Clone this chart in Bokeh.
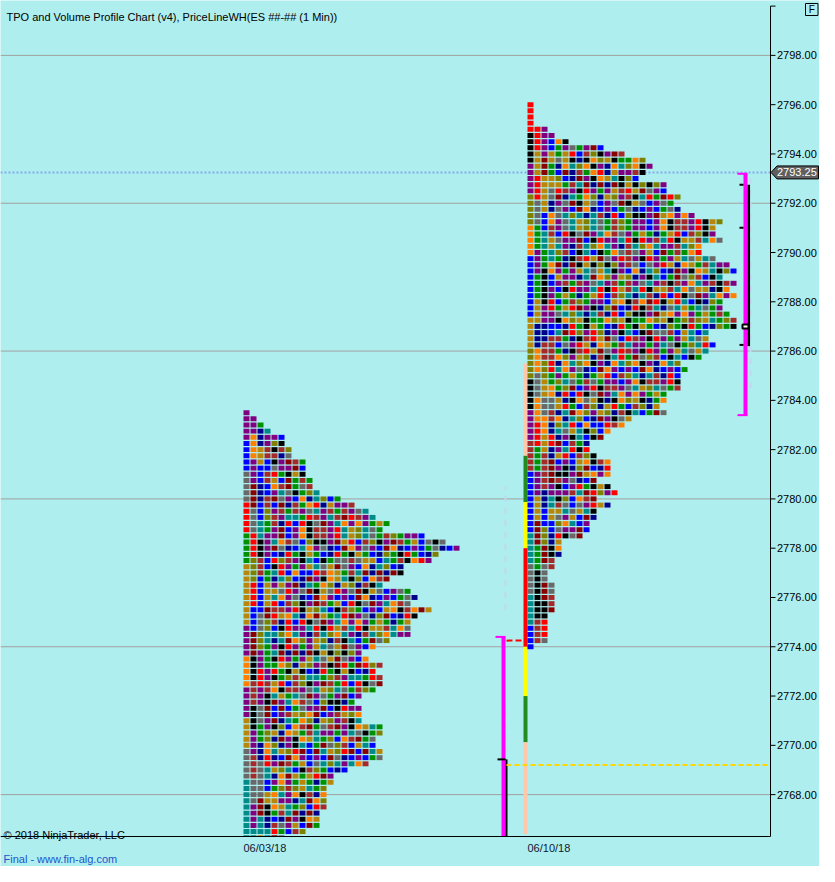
from bokeh.plotting import figure
from bokeh.models import ColumnDataSource, Range1d
from bokeh.core.properties import value
from bokeh.embed import file_html
from bokeh.resources import INLINE

# ---------------- data ----------------
TITLE = "TPO and Volume Profile Chart (v4), PriceLineWH(ES ##-## (1 Min))"
COPYRIGHT = "\u00a9 2018 NinjaTrader, LLC"
FOOTER = "Final - www.fin-alg.com"

session_dates = ["06/03/18", "06/10/18"]
tick_size = 0.25

# TPO counts per price row, from the top row downwards
p1_top = 2783.5
p1_counts = [1, 2, 3, 4, 6, 6, 7, 7, 9, 9, 9, 10, 10, 11, 14, 16, 18, 19, 21, 20,
             26, 29, 31, 28, 27, 23, 23, 21, 20, 24, 25, 24, 27, 25, 24, 24,
             24, 21, 19, 17, 18, 20, 19, 20, 20, 19, 17, 16, 17, 17, 17, 20, 20, 19,
             19, 20, 20, 18, 15, 13, 13, 12, 12, 12, 12, 11, 11, 11, 9, 6]
p2_top = 2796.0
p2_counts = [1, 1, 1, 1, 3, 4, 6, 11, 14, 17, 18, 17, 16, 20, 20, 22, 21, 22, 24, 28,
             27, 27, 28, 25, 25, 27, 29, 30, 28, 30, 29, 30, 28, 28, 29, 30, 30, 26, 26, 27,
             26, 25, 22, 23, 22, 22, 22, 20, 20, 19, 20, 15, 14, 12, 11, 9, 9, 10, 12, 12,
             12, 10, 12, 13, 10, 12, 10, 10, 9, 9, 8, 5, 5, 5, 4, 4, 3, 3, 4, 4,
             4, 4, 4, 3, 3, 3, 3, 3, 1]

last_price = 2793.25
price_ticks = [2768.0, 2770.0, 2772.0, 2774.0, 2776.0, 2778.0, 2780.0, 2782.0,
               2784.0, 2786.0, 2788.0, 2790.0, 2792.0, 2794.0, 2796.0, 2798.0, 2800.0]
labelled_ticks = price_ticks[:-1]
grid_prices = [2768.0, 2774.0, 2780.0, 2786.0, 2792.0, 2798.0]

# coloured strip at the left edge of session 2
strip_tops = [2785.5, 2781.75, 2779.875, 2778.0, 2774.0, 2772.0, 2770.125]
strip_bottoms = [2781.75, 2779.875, 2778.0, 2774.0, 2772.0, 2770.125, 2766.4]
strip_colors = ["#FFC8AA", "#228B22", "#FFFF00", "#FF0000", "#FFFF00", "#228B22", "#FFC8AA"]

# PriceLineWH levels
left_magenta_top = 2774.4
left_black_top = 2769.43
red_level = 2774.25
yellow_level = 2769.2
right_magenta_top = 2793.2
right_magenta_bottom = 2783.4
right_black_top = 2792.75
right_black_bottom = 2786.2
right_black_ticks = [2792.75, 2791.0, 2786.25]
right_marker = 2787.0

# ---------------- layout ----------------
W, H = 819, 866
Y0, Y1 = 2766.3, 2800.0         # price extent of the plotting area
TOP_PX, BOT_PX = 5.6, 836.0     # where Y1 / Y0 sit, px from the top
PPU = (BOT_PX - TOP_PX) / (Y1 - Y0)
Y_TOP = Y1 + TOP_PX / PPU
Y_BOT = Y0 - (H - BOT_PX) / PPU
AX = 770.0                      # price axis position (px from left)


def py(pix):                    # vertical pixel offset -> price units
    return pix / PPU


session_x = [243, 527]
pitch, cell_w, cell_h = 7.0, 6.0, 0.2

BG = "#AFEEEE"
FONT = "Liberation Sans"

palette = {"K": "#000000", "G": "#009100", "R": "#8B0000", "N": "#00008B",
           "T": "#008B8B", "P": "#800080", "D": "#B8860B", "O": "#808000",
           "Y": "#696969", "E": "#FF0000", "B": "#0000FF", "W": "#A52A2A",
           "A": "#FF8000"}
SEQ = "PKGWBNTPDOYEARGKTBWDNPOEYAGRTKBPDWNYOAEGTRKPBDW"


def cell_color(s, r, c):
    run = max(1, 5 - c)
    k = r // run
    i = (c * 7 + k * 3 + (c * k * k) % 13 + (k * k) % 7 + s * 11) % len(SEQ)
    return palette[SEQ[i]]


L, R, T, B, C = [], [], [], [], []
for s, (top, counts) in enumerate([(p1_top, p1_counts), (p2_top, p2_counts)]):
    for r, n in enumerate(counts):
        yc = top - tick_size * r
        if yc + cell_h / 2 <= Y0:
            continue
        for c in range(n):
            L.append(session_x[s] + pitch * c)
            R.append(session_x[s] + pitch * c + cell_w)
            T.append(yc + cell_h / 2)
            B.append(max(yc - cell_h / 2, Y0))
            C.append(cell_color(s, r, c))
cells = ColumnDataSource(dict(left=L, right=R, top=T, bottom=B, color=C))

p = figure(width=W, height=H, output_backend="svg", toolbar_location=None,
           x_range=Range1d(0, W), y_range=Range1d(Y_BOT, Y_TOP),
           x_axis_location=None, y_axis_location=None,
           min_border_left=0, min_border_right=0, min_border_top=0, min_border_bottom=0,
           background_fill_color=BG, border_fill_color=BG, outline_line_color=None)
p.grid.visible = False

# horizontal grid lines and last-price dotted line
p.segment(x0=0, x1=AX, y0=grid_prices, y1=grid_prices, line_color="#A0A0A0", line_width=1)
p.segment(x0=[0], x1=[AX], y0=[last_price], y1=[last_price], line_color="#82AAF0",
          line_width=2, line_dash="2 2")

# faint guide lines
p.segment(x0=[505, 505], x1=[505, 505], y0=[Y0, 2775.5], y1=[2771.5, 2780.5],
          line_color="#C4D6F2", line_width=2, line_dash="6 6")
p.segment(x0=[750], x1=[750], y0=[2784.5], y1=[2793.0],
          line_color="#C4D6F2", line_width=2, line_dash="6 6")

# strip
p.quad(left=523, right=527, top=strip_tops, bottom=strip_bottoms,
       fill_color=strip_colors, line_color=None)

# TPO cells
p.quad(left="left", right="right", top="top", bottom="bottom", fill_color="color",
       line_color=None, source=cells)

# PriceLineWH marks, left
p.segment(x0=[503], x1=[503], y0=[left_magenta_top], y1=[Y0],
          line_color="#FF00FF", line_width=4)
p.segment(x0=[495], x1=[505], y0=[left_magenta_top], y1=[left_magenta_top],
          line_color="#FF00FF", line_width=2)
p.segment(x0=[506], x1=[506], y0=[left_black_top], y1=[Y0],
          line_color="black", line_width=2)
p.segment(x0=[497], x1=[505], y0=[left_black_top], y1=[left_black_top],
          line_color="black", line_width=2)
p.segment(x0=[506], x1=[523], y0=[red_level], y1=[red_level],
          line_color="#FF0000", line_width=2, line_dash="6 3")
p.segment(x0=[506], x1=[AX], y0=[yellow_level], y1=[yellow_level],
          line_color="#FFD700", line_width=2, line_dash="5 3")

# PriceLineWH marks, right
p.segment(x0=[745], x1=[745], y0=[right_magenta_top], y1=[right_magenta_bottom],
          line_color="#FF00FF", line_width=4)
p.segment(x0=[737, 737], x1=[747, 747], y0=[right_magenta_top, right_magenta_bottom],
          y1=[right_magenta_top, right_magenta_bottom], line_color="#FF00FF", line_width=2)
p.segment(x0=[748.3], x1=[748.3], y0=[right_black_top], y1=[right_black_bottom],
          line_color="black", line_width=2.5)
p.segment(x0=[739] * 3, x1=[743] * 3, y0=right_black_ticks, y1=right_black_ticks,
          line_color="black", line_width=2)
p.rect(x=[745], y=[right_marker], width=6, height=py(4), fill_color="white",
       line_color="black", line_width=2)

# price axis (right) and time axis (bottom)
p.segment(x0=[AX], x1=[AX], y0=[Y0], y1=[Y1], line_color="black", line_width=1)
p.segment(x0=[0], x1=[AX], y0=[Y0], y1=[Y0], line_color="black", line_width=1)
p.segment(x0=AX, x1=AX + 5, y0=price_ticks, y1=price_ticks, line_color="black", line_width=1)
p.text(x=AX + 6.5, y=labelled_ticks, text=[f"{t:.2f}" for t in labelled_ticks],
       text_font=value(FONT), text_font_size=value("11px"), text_color="black",
       text_baseline="middle", text_align="left")
p.text(x=session_x, y=[Y0 - py(11)] * 2, text=session_dates,
       text_font=value(FONT), text_font_size=value("11px"), text_color="#101830",
       text_baseline="alphabetic", text_align="left")

# last price marker on the axis
hh = py(6.5)
p.patch(x=[AX + 0.5, AX + 6.5, W - 1, W - 1, AX + 6.5],
        y=[last_price, last_price + hh, last_price + hh, last_price - hh, last_price - hh],
        fill_color="#5F5F5F", line_color="black", line_width=1)
p.text(x=[AX + 6.5], y=[last_price], text=[f"{last_price:.2f}"], text_font=value(FONT),
       text_font_size=value("11px"), text_color="white", text_baseline="middle")

# "F" box
p.quad(left=[W - 14], right=[W - 1.5], top=[Y_TOP - py(3)], bottom=[Y_TOP - py(15)],
       fill_alpha=0, line_color="black", line_width=1)
p.text(x=[W - 7.75], y=[Y_TOP - py(9)], text=["F"], text_font=value(FONT),
       text_font_size=value("10px"), text_color="black", text_baseline="middle",
       text_align="center")

# texts
p.text(x=[6], y=[Y_TOP - py(16)], text=[TITLE], text_font=value(FONT), text_font_size=value("11px"),
       text_color="black", text_baseline="alphabetic")
p.text(x=[3], y=[Y0 + py(2)], text=[COPYRIGHT], text_font=value(FONT), text_font_size=value("11px"),
       text_color="black", text_baseline="alphabetic")
p.text(x=[3], y=[Y0 - py(22)], text=[FOOTER], text_font=value(FONT), text_font_size=value("11px"),
       text_color="#2255CC", text_baseline="alphabetic")

open("out.html", "w").write(file_html(p, INLINE))
